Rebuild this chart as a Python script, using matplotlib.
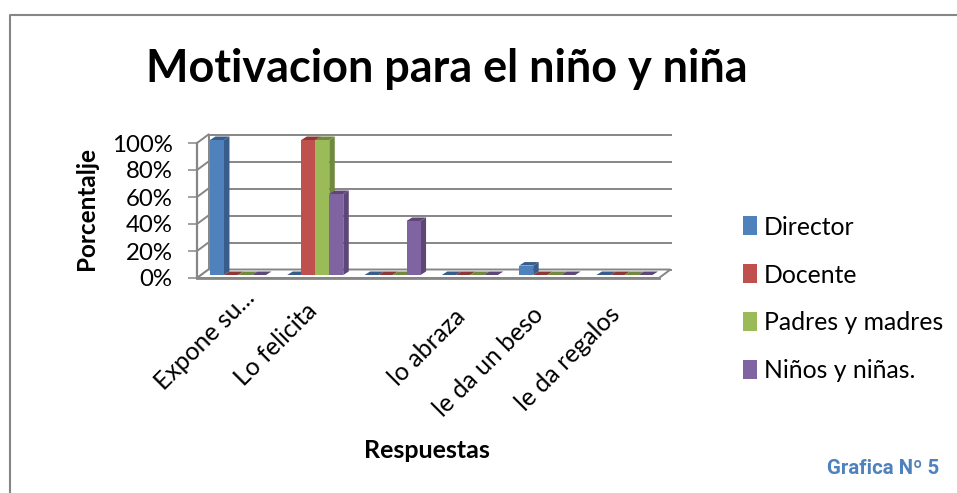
import matplotlib
matplotlib.use("Agg")
import matplotlib.pyplot as plt
from matplotlib.patches import Polygon
from matplotlib.lines import Line2D
from matplotlib.transforms import Affine2D

categories = ["Expone su...", "Lo felicita", "", "lo abraza", "le da un beso", "le da regalos"]
series_names = ["Director", "Docente", "Padres y madres", "Niños y niñas."]
director = [100, 0, 0, 0, 7, 0]
docente = [0, 100, 0, 0, 0, 0]
padres = [0, 100, 0, 0, 0, 0]
ninos = [0, 60, 40, 0, 0, 0]
yticks = [0, 20, 40, 60, 80, 100]
ylabels = ["0%", "20%", "40%", "60%", "80%", "100%"]
fronts = ["#4F81BD", "#C0504D", "#9BBB59", "#8064A2"]
sides = ["#385D8A", "#8C3836", "#71893F", "#5C4776"]
label_nudges = [(5, 6), (-10, -7), (0, 0), (-17, -13), (-16, -11), (-16, -11)]

W, H = 957, 493
plt.rcParams['font.family'] = ['Lato', 'DejaVu Sans']
fig = plt.figure(figsize=(W / 100, H / 100), dpi=100, facecolor="white")
ax = fig.add_axes([197 / W, (H - 278) / H, 462 / W, 135 / H])
span = 462 / 77.3
x0 = -0.53
ax.set_xlim(x0, x0 + span)
ax.set_ylim(0, 100)
ax.patch.set_visible(False)
for s in ax.spines.values():
    s.set_visible(False)

GRID = "#868686"
px = (462 / span)
py = 1.35
back_t = ax.transData + Affine2D().translate(11.5, 8.5)
bar_t = ax.transData + Affine2D().translate(0, 3)
xr = x0 + span

for t in yticks:
    ax.plot([x0, xr], [t, t], color=GRID, lw=1.4, transform=back_t, clip_on=False, zorder=1)
    ax.plot([x0, x0 + 11.5 / px], [t, t + 8.5 / py], color=GRID, lw=1.4, clip_on=False, zorder=1)
ax.plot([x0, x0], [100 + 8.5 / py, 8.5 / py], color=GRID, lw=1.4,
        transform=ax.transData + Affine2D().translate(11.5, 0), clip_on=False, zorder=1)
ax.add_patch(Polygon([(x0, 0), (x0 + 11.5 / px, 8.5 / py), (xr + 11.5 / px, 8.5 / py), (xr, 0)],
                     closed=True, fc="white", ec=GRID, lw=1.4, clip_on=False, zorder=1.5))
ax.plot([x0, x0], [0, 100], color=GRID, lw=1.6, clip_on=False, zorder=2)
ax.plot([x0, xr], [0, 0], color=GRID, lw=2.0, clip_on=False, zorder=2)

bw = 14 / px
dx, dy = 5.5 / px, 3.5 / py
z = 3
for cat in range(len(categories)):
    for k, vals in enumerate([director, docente, padres, ninos]):
        v = vals[cat]
        left = cat - 2 * bw + k * bw
        right = left + bw
        ax.add_patch(Polygon([(right, 0), (right + dx, dy), (right + dx, v + dy), (right, v)], closed=True,
                             fc=sides[k], ec="none", transform=bar_t, clip_on=False, zorder=z))
        ax.add_patch(Polygon([(left, v), (left + dx, v + dy), (right + dx, v + dy), (right, v)], closed=True,
                             fc=sides[k], ec="none", transform=bar_t, clip_on=False, zorder=z))
        z += 0.01
        ax.bar(cat - 2 * bw + (k + 0.5) * bw, v, width=bw, color=fronts[k], transform=bar_t,
               clip_on=False, zorder=z)
        z += 0.01

ax.set_yticks(yticks)
ax.set_yticklabels(ylabels, fontsize=17.3, color="black")
ax.tick_params(axis="y", length=6.5, width=1.1, color=GRID, pad=11)
ax.set_xticks(range(len(categories)))
ax.set_xticklabels(categories, rotation=45, ha="right", rotation_mode="anchor", fontsize=17.8, color="black")
ax.tick_params(axis="x", length=0, pad=10)
for lab, (nx, ny) in zip(ax.get_xticklabels(), label_nudges):
    lab.set_transform(lab.get_transform() + Affine2D().translate(nx, ny))

def ftext(x, y, s, **kw):
    fig.text(x / W, 1 - y / H, s, ha=kw.pop("ha", "center"), va=kw.pop("va", "center"), **kw)

ftext(447, 69, "Motivacion para el niño y niña", fontsize=32.4, fontweight="bold", color="black")
ftext(87, 208, "Porcentalje", fontsize=17.5, fontweight="bold", rotation=90)
ftext(427, 450, "Respuestas", fontsize=18, fontweight="bold")
ftext(883, 469, "Grafica Nº 5", fontsize=14.7, fontweight="bold", color="#4F81BD", family=["Roboto"])

handles = [plt.Rectangle((0, 0), 1, 1, fc=c, ec="none") for c in fronts]
fig.legend(handles, series_names, loc="center left", bbox_to_anchor=(743 / W, 1 - 299 / H), frameon=False,
           fontsize=17.8, handlelength=0.58, handleheight=0.8, handletextpad=0.26, labelspacing=1.01,
           borderpad=0, borderaxespad=0)

fig.add_artist(Line2D([10 / W, 10 / W, 1], [0, 1 - 14.5 / H, 1 - 14.5 / H], color="#868686", lw=1.5))

fig.savefig("out.png", dpi=100)
